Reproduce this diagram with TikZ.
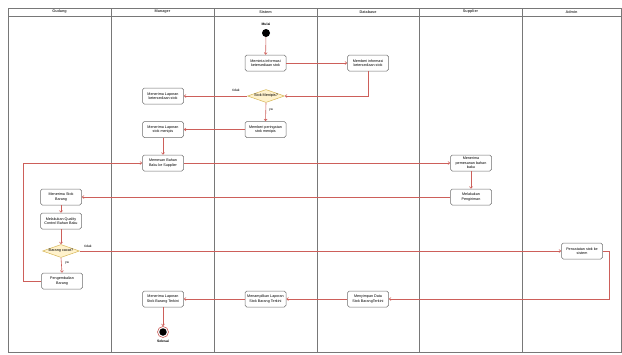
\documentclass[tikz,border=0pt]{standalone}
\usepackage{fontspec}
\setmainfont{Liberation Sans}
\usetikzlibrary{arrows.meta,shapes.geometric}
\definecolor{flowred}{RGB}{205,95,90}
\definecolor{laneline}{RGB}{120,120,120}
\definecolor{boxline}{RGB}{110,110,110}
\definecolor{decfill}{RGB}{255,242,204}
\definecolor{decline}{RGB}{214,182,86}
\begin{document}
\begin{tikzpicture}[x=1pt,y=-1pt,
  lane/.style={draw=laneline,line width=0.8pt},
  head/.style={font=\fontsize{3.8}{4.4}\selectfont\bfseries,text=black!75},
  act/.style={draw=boxline,rounded corners=1.8pt,fill=white,minimum width=41pt,
    minimum height=16pt,align=center,inner sep=0.5pt,line width=0.5pt,
    font=\fontsize{3.7}{4.5}\selectfont},
  dec/.style={diamond,draw=decline,fill=decfill,line width=0.5pt,inner sep=0pt,
    minimum width=37pt,minimum height=13pt},
  dectext/.style={font=\fontsize{3.8}{4.4}\selectfont,inner sep=0pt},
  lbl/.style={font=\fontsize{3.4}{4}\selectfont},
  flow/.style={draw=flowred,line width=0.6pt,-{Straight Barb[length=1.8pt,width=3pt]}}
]
\useasboundingbox (0,0) rectangle (622,354);

% swimlanes
\draw[lane] (8,8) rectangle (621,352);
\draw[lane] (8,16) -- (621,16);
\foreach \x in {111,214,317,419,522}
  \draw[lane] (\x,8) -- (\x,352);
\node[head] (hGudang)   at (59.5,12)  {Gudang};
\node[head] (hManager)  at (162.5,12) {Manager};
\node[head] (hSistem)   at (265.5,12) {Sistem};
\node[head] (hDatabase) at (368,12)   {Database};
\node[head] (hSupplier) at (470.5,12) {Supplier};
\node[head] (hAdmin)    at (571.5,12) {Admin};

% start
\node[lbl,font=\fontsize{3.4}{4}\selectfont\bfseries] (mulai) at (266,24) {Mulai};
\node[circle,fill=black,inner sep=0pt,minimum size=8pt] (start) at (266,33) {};

% activities
\node[act] (minta)     at (265.5,63)  {Meminta informasi\\ketersediaan stok};
\node[act] (beri)      at (368,63)    {Memberi informasi\\ketersediaan stok};
\node[dec] (cekstok)   at (266,96)    {};
\node[dectext] (cekstokT) at (cekstok) {Stok Menipis?};
\node[act] (lapsedia)  at (163,96)    {Menerima Laporan\\ketersediaan stok};
\node[act] (peringat)  at (265.5,129.5) {Memberi peringatan\\stok menipis};
\node[act] (laptipis)  at (163,129.5) {Menerima Laporan\\stok menipis};
\node[act] (pesan)     at (163,163)   {Memesan Bahan\\Baku ke Supplier};
\node[act] (terimapsn) at (471,163)   {Menerima\\pemesanan bahan\\baku};
\node[act] (kirim)     at (471,197)   {Melakukan\\Pengiriman};
\node[act] (terimastk) at (61,197)    {Menerima Stok\\Barang};
\node[act] (qc)        at (61,221)    {Melakukan Quality\\Control Bahan Baku};
\node[dec] (cacat)     at (61,251)    {};
\node[dectext] (cacatT) at (cacat) {Barang cacat?};
\node[act] (kembali)   at (62,281)    {Pengembalian\\Barang};
\node[act] (catat)     at (582,251)   {Pencatatan stok ke\\sistem};
\node[act] (simpan)    at (368,299)   {Menyimpan Data\\Stok BarangTerkini};
\node[act] (tampil)    at (265.5,299) {Menampilkan Laporan\\Stok Barang Terkini};
\node[act] (lapakhir)  at (163,299)   {Menerima Laporan\\Stok Barang Terkini};

% end
\node[circle,draw=flowred,fill=white,line width=0.6pt,inner sep=0pt,minimum size=11pt] (stop) at (163,332) {};
\node[circle,fill=black,inner sep=0pt,minimum size=7.5pt] (stopdot) at (stop) {};
\node[lbl,font=\fontsize{3.4}{4}\selectfont\bfseries] (selesai) at (163,341) {Selesai};

% guard labels
\node[lbl] (g1) at (236,90)  {tidak};
\node[lbl] (g2) at (271,110) {ya};
\node[lbl] (g3) at (88,246)  {tidak};
\node[lbl] (g4) at (67,263)  {ya};

% helper corners
\coordinate (loopL) at (23,281);
\coordinate (rt) at (609,299);

% flows
\draw[flow] (start) -- (minta);
\draw[flow] (minta) -- (beri);
\draw[flow] (beri.south) |- (cekstok.east);
\draw[flow] (cekstok.west) -- (lapsedia.east);
\draw[flow] (cekstok.south) -- (peringat.north);
\draw[flow] (peringat) -- (laptipis);
\draw[flow] (laptipis) -- (pesan);
\draw[flow] (pesan) -- (terimapsn);
\draw[flow] (terimapsn) -- (kirim);
\draw[flow] (kirim) -- (terimastk);
\draw[flow] (terimastk) -- (qc);
\draw[flow] (qc) -- (cacat);
\draw[flow] (cacat.east) -- (catat.west);
\draw[flow] (cacat.south) -- (kembali.north);
\draw[flow] (kembali.west) -- (loopL) |- (pesan.west);
\draw[flow] (catat.east) -| (rt) -- (simpan.east);
\draw[flow] (simpan) -- (tampil);
\draw[flow] (tampil) -- (lapakhir);
\draw[flow] (lapakhir) -- (stop);
\end{tikzpicture}
\end{document}
